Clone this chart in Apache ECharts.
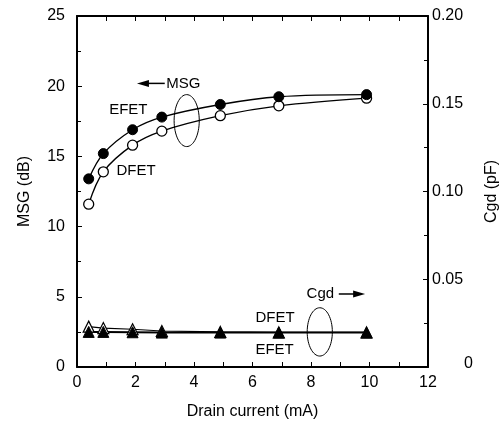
<!DOCTYPE html>
<html>
<head>
<meta charset="utf-8">
<script src="https://cdn.jsdelivr.net/npm/echarts@6/dist/echarts.min.js"></script>
<style>
  html, body { margin: 0; padding: 0; background: #fff; }
  #chart { width: 500px; height: 428px; }
</style>
</head>
<body>
<div id="chart"></div>
<script>
// drain current (mA)
const current = [0.4, 0.9, 1.9, 2.9, 4.9, 6.9, 9.9];
// MSG (dB)
const msgEfet = [13.4, 15.2, 16.9, 17.8, 18.7, 19.25, 19.4];
const msgDfet = [11.6, 13.9, 15.8, 16.8, 17.9, 18.6, 19.15];
// Cgd (pF)
const cgdEfet = [0.020, 0.0200, 0.0198, 0.0196, 0.0196, 0.0196, 0.0196];
const cgdDfet = [0.023, 0.0222, 0.0215, 0.0205, 0.0200, 0.0197, 0.0197];

const xTicks = [0, 2, 4, 6, 8, 10, 12];

const pairs = (xs, ys) => xs.map((x, i) => [x, ys[i]]);

const font = 'Liberation Sans, Arial, Helvetica, sans-serif';
const black = '#000';

const chart = echarts.init(document.getElementById('chart'));

const axisLine = () => ({ show: true, onZero: false, lineStyle: { color: black, width: 2 } });
const tick = () => ({ show: true, inside: true, length: 5, lineStyle: { color: black, width: 1 } });
const minor = () => ({ show: true, splitNumber: 2, length: 4, lineStyle: { color: black, width: 1 } });
const tickFont = { fontFamily: font, fontSize: 16, color: black };

const option = {
  animation: false,
  backgroundColor: '#fff',
  grid: {
    left: 77, right: 72, top: 16, bottom: 61, containLabel: false,
    outerBoundsMode: 'none'
  },
  xAxis: [
    {
      type: 'value', min: 0, max: 12, interval: 1, position: 'bottom',
      name: 'Drain current (mA)', nameLocation: 'middle', nameGap: 37,
      nameTextStyle: { fontFamily: font, fontSize: 16, color: black },
      axisLine: axisLine(), axisTick: tick(), splitLine: { show: false },
      axisLabel: Object.assign({}, tickFont, {
        margin: 8,
        formatter: v => xTicks.indexOf(v) >= 0 ? String(v) : ''
      })
    },
    {
      type: 'value', min: 0, max: 12, interval: 1, position: 'top',
      axisLine: axisLine(), axisTick: tick(), axisLabel: { show: false }, splitLine: { show: false }
    }
  ],
  yAxis: [
    {
      type: 'value', min: 0, max: 25, interval: 5, position: 'left',
      name: 'MSG (dB)', nameLocation: 'middle', nameGap: 44, nameRotate: 90,
      nameTextStyle: { fontFamily: font, fontSize: 16, color: black },
      axisLine: axisLine(), axisTick: tick(), minorTick: minor(),
      axisLabel: Object.assign({}, tickFont, { margin: 12 }),
      splitLine: { show: false }
    },
    {
      type: 'value', min: 0, max: 0.2, interval: 0.05, position: 'right',
      name: 'Cgd (pF)', nameLocation: 'middle', nameGap: 54, nameRotate: 90,
      nameTextStyle: { fontFamily: font, fontSize: 16, color: black },
      axisLine: axisLine(), axisTick: tick(), minorTick: minor(),
      axisLabel: Object.assign({}, tickFont, {
        margin: 4,
        formatter: v => v === 0 ? '{z|0}' : v.toFixed(2),
        rich: { z: { fontFamily: font, fontSize: 16, color: black, width: 41, align: 'right', padding: [0, 0, 6, 0] } }
      }),
      splitLine: { show: false }
    }
  ],
  series: [
    {
      name: 'MSG DFET', type: 'line', xAxisIndex: 0, yAxisIndex: 0,
      data: pairs(current, msgDfet), smooth: 0.35,
      symbol: 'circle', symbolSize: 10,
      lineStyle: { color: black, width: 1.4 },
      itemStyle: { color: '#fff', borderColor: black, borderWidth: 1.3 }
    },
    {
      name: 'MSG EFET', type: 'line', xAxisIndex: 0, yAxisIndex: 0,
      data: pairs(current, msgEfet), smooth: 0.35,
      symbol: 'circle', symbolSize: 10,
      lineStyle: { color: black, width: 1.4 },
      itemStyle: { color: black, borderColor: black, borderWidth: 1 }
    },
    {
      name: 'Cgd DFET', type: 'line', xAxisIndex: 0, yAxisIndex: 1,
      data: pairs(current, cgdDfet),
      symbol: 'triangle', symbolSize: 11,
      lineStyle: { color: black, width: 1.2 },
      itemStyle: { color: '#fff', borderColor: black, borderWidth: 1.2 }
    },
    {
      name: 'Cgd EFET', type: 'line', xAxisIndex: 0, yAxisIndex: 1,
      data: pairs(current, cgdEfet),
      symbol: 'triangle', symbolSize: 11,
      lineStyle: { color: black, width: 2 },
      itemStyle: { color: black, borderColor: black, borderWidth: 1 }
    }
  ]
};

chart.setOption(option);

// annotations placed in data coordinates (MSG axis)
const px = (x, y) => chart.convertToPixel({ xAxisIndex: 0, yAxisIndex: 0 }, [x, y]);

function label(text, x, y, align) {
  const p = px(x, y);
  return {
    type: 'text', x: p[0], y: p[1],
    style: { text: text, fontFamily: font, fontSize: 15, fill: black, align: align || 'left', verticalAlign: 'middle' }
  };
}
function ellipse(x, y, rxUnits, ryUnits) {
  const c = px(x, y);
  const e = px(x + rxUnits, y - ryUnits);
  return {
    type: 'ellipse',
    shape: { cx: c[0], cy: c[1], rx: e[0] - c[0], ry: e[1] - c[1] },
    style: { fill: 'none', stroke: black, lineWidth: 1 }
  };
}
function arrow(x1, x2, y) {
  const a = px(x1, y), b = px(x2, y);
  const dir = Math.sign(b[0] - a[0]);
  return [
    { type: 'line', shape: { x1: a[0], y1: a[1], x2: b[0] - dir * 8, y2: b[1] }, style: { stroke: black, lineWidth: 1.5 } },
    { type: 'polygon', shape: { points: [[b[0], b[1]], [b[0] - dir * 12, b[1] - 3.5], [b[0] - dir * 12, b[1] + 3.5]] }, style: { fill: black } }
  ];
}

// plot frame edges from the axis extents
const lo = px(0, 0), hi = px(12, 25);
const edge = (x1, y1, x2, y2) => ({
  type: 'line', z: 100,
  shape: { x1: x1, y1: y1, x2: x2, y2: y2 },
  style: { stroke: black, lineWidth: 2 }
});

chart.setOption({
  graphic: [
    edge(lo[0], hi[1], hi[0], hi[1]),
    edge(lo[0], hi[1], lo[0], lo[1]),
    edge(hi[0], hi[1], hi[0], lo[1]),
    label('EFET', 1.1, 18.3),
    label('DFET', 1.35, 14.0),
    label('MSG', 3.05, 20.2),
    ...arrow(3.0, 2.05, 20.2),
    ellipse(3.75, 17.55, 0.43, 1.85),
    label('DFET', 6.1, 3.5),
    label('EFET', 6.1, 1.2),
    label('Cgd', 7.85, 5.2),
    ...arrow(8.95, 9.85, 5.2),
    ellipse(8.3, 2.5, 0.43, 1.72)
  ]
});
</script>
</body>
</html>
